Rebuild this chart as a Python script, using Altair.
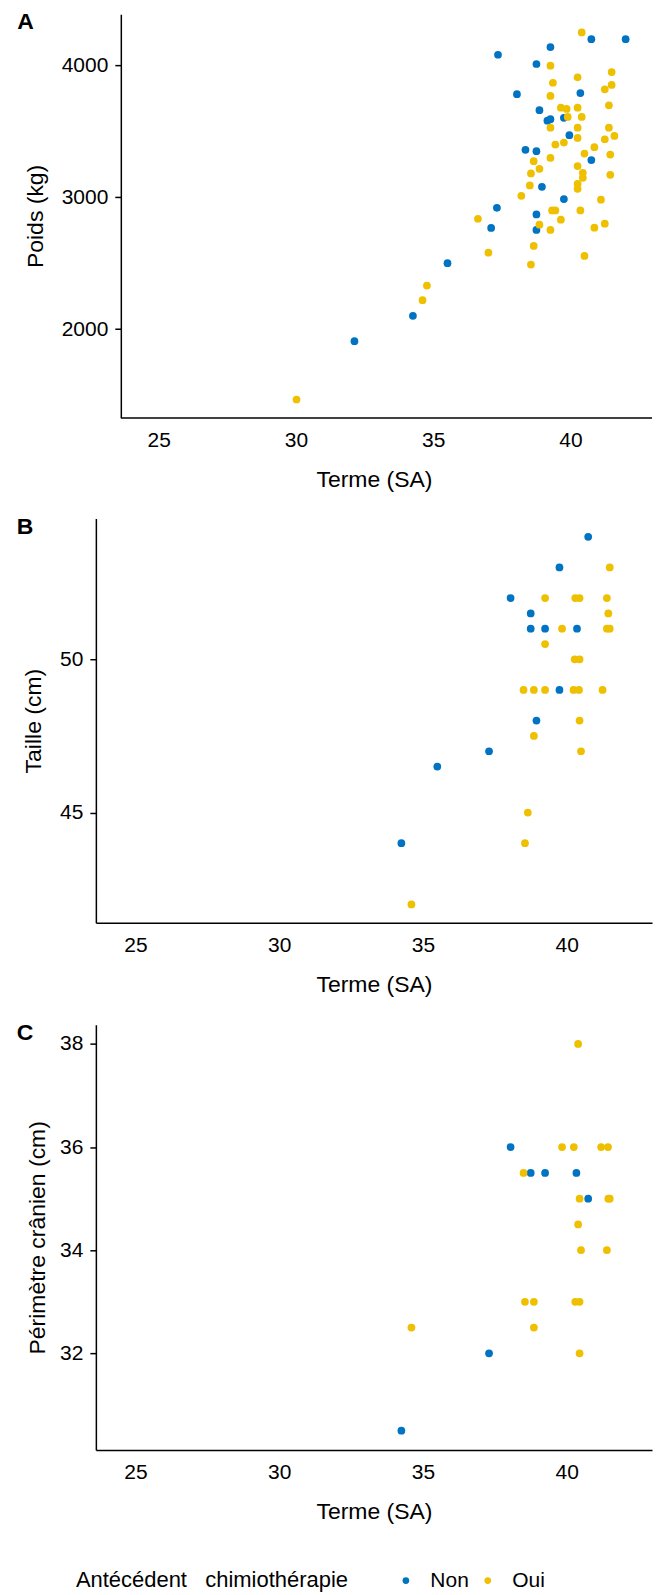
import altair as alt
import pandas as pd

FONT = "Liberation Sans"
BLUE, YELLOW = "#0073C2", "#EFC000"
X_TICKS = [25, 30, 35, 40]
X_MIN, X_MAX = 23.62, 42.97
X_MIN_A = 22.71  # panel A plot area starts further left; its axes start at X_MIN

# ---------------- Panel A : Poids (kg) ----------------
termeA_non = [40.76, 42.01, 39.27, 37.36, 38.76, 38.05, 40.36, 38.87, 39.16, 39.27, 39.76, 39.96,
              38.36, 38.76, 40.76, 38.96, 39.76, 37.32, 38.76, 37.11, 38.76, 35.52, 34.26, 32.13]
poidsA_non = [4196, 4196, 4136, 4078, 4008, 3779, 3788, 3658, 3579, 3590, 3600, 3469,
              3358, 3348, 3280, 3078, 2985, 2919, 2869, 2766, 2751, 2499, 2101, 1909]
termeA_oui = [40.41, 39.27, 41.50, 40.26, 39.36, 41.50, 41.25, 39.27, 41.40, 39.65, 39.86, 40.26,
              39.90, 40.41, 39.27, 40.26, 41.40, 40.26, 41.25, 41.60, 39.45, 39.76, 40.87, 40.51,
              41.45, 39.27, 38.66, 38.87, 38.56, 40.26, 40.45, 40.45, 41.45, 38.52, 40.26, 40.26,
              38.21, 41.11, 39.33, 39.45, 40.36, 36.63, 39.65, 38.87, 39.27, 40.87, 41.25, 37.01,
              38.66, 38.56, 40.51, 34.77, 34.61, 30.02]
poidsA_oui = [4247, 3995, 3947, 3907, 3866, 3849, 3816, 3766, 3695, 3677, 3668, 3677,
              3607, 3607, 3526, 3526, 3526, 3448, 3438, 3463, 3398, 3413, 3378, 3330,
              3322, 3297, 3272, 3214, 3179, 3235, 3184, 3146, 3169, 3088, 3101, 3063,
              3010, 2980, 2899, 2899, 2899, 2836, 2829, 2791, 2751, 2768, 2799, 2579,
              2630, 2489, 2554, 2330, 2219, 1467]

# ---------------- Panel B : Taille (cm) ----------------
termeB_non = [40.75, 39.75, 38.05, 38.75, 38.75, 39.25, 40.36, 39.75, 38.95, 37.30, 35.50, 34.25]
tailleB_non = [54, 53, 52, 51.5, 51, 51, 51, 49, 48, 47, 46.5, 44]
termeB_oui = [41.50, 39.25, 40.30, 40.45, 41.40, 41.45, 39.84, 41.40, 41.50, 39.25, 40.28, 40.45,
              38.50, 38.86, 39.25, 40.24, 40.43, 41.25, 40.45, 38.86, 40.50, 38.65, 38.55, 34.60]
tailleB_oui = [53, 52, 52, 52, 52, 51.5, 51, 51, 51, 50.5, 50, 50,
               49, 49, 49, 49, 49, 49, 48, 47.5, 47, 45, 44, 42]

# ---------------- Panel C : Périmètre crânien (cm) ----------------
termeC_non = [38.05, 38.75, 39.25, 40.34, 40.75, 37.30, 34.25]
pcC_non = [36, 35.5, 35.5, 35.5, 35, 32, 30.5]
termeC_oui = [40.40, 39.84, 40.25, 41.20, 41.44, 38.50, 40.45, 41.45, 41.50, 40.40, 40.50, 41.40,
              38.55, 38.86, 40.30, 40.45, 34.60, 38.86, 40.45]
pcC_oui = [38, 36, 36, 36, 36, 35.5, 35, 35, 35, 34.5, 34, 34,
           33, 33, 33, 33, 32.5, 32.5, 32]

GROUPS = ["Non", "Oui"]


def frame(terme_non, val_non, terme_oui, val_oui):
    return pd.DataFrame({
        "terme": terme_non + terme_oui,
        "val": val_non + val_oui,
        "chimio": [GROUPS[0]] * len(terme_non) + [GROUPS[1]] * len(terme_oui),
    })


dfA = frame(termeA_non, poidsA_non, termeA_oui, poidsA_oui)
dfB = frame(termeB_non, tailleB_non, termeB_oui, tailleB_oui)
dfC = frame(termeC_non, pcC_non, termeC_oui, pcC_oui)

color = alt.Color(
    "chimio:N",
    scale=alt.Scale(domain=GROUPS, range=[BLUE, YELLOW]),
    legend=alt.Legend(
        title="Antécédent\u00a0\u00a0 chimiothérapie",
        orient="none", legendX=-20, legendY=1558,
        direction="horizontal", titleOrient="left", titleLimit=600,
        titlePadding=47, labelOffset=14, columnPadding=8,
        symbolSize=45, symbolType="circle", symbolStrokeWidth=0,
        padding=0,
    ),
)


def panel(df, letter, ytitle, ydomain, yticks, height, ytp, letter_dx, letter_dy,
          xmin=X_MIN, yaxis_offset=0):
    shifted = xmin != X_MIN
    points = alt.Chart(df).mark_circle(size=60, opacity=1).encode(
        x=alt.X("terme:Q", title="Terme (SA)",
                scale=alt.Scale(domain=[xmin, X_MAX], nice=False, zero=False),
                axis=alt.Axis(values=X_TICKS, tickSize=0, labelPadding=12, titlePadding=18,
                              domain=not shifted)),
        y=alt.Y("val:Q", title=ytitle,
                scale=alt.Scale(domain=ydomain, nice=False, zero=False),
                axis=alt.Axis(values=yticks, format="d", tickSize=6, labelPadding=7,
                              titlePadding=ytp, offset=yaxis_offset)),
        color=color,
    )
    layers = [points]
    if shifted:
        axis_line = pd.DataFrame({"x0": [X_MIN], "x1": [X_MAX], "y0": [ydomain[0]]})
        layers.append(
            alt.Chart(axis_line).mark_rule(color="black", strokeWidth=1.5, yOffset=0.5).encode(
                x="x0:Q", x2="x1:Q", y="y0:Q"
            )
        )
    return alt.layer(
        *layers,
        title=alt.TitleParams(letter, anchor="start", frame="bounds", orient="top",
                              fontSize=23, fontWeight="bold", font=FONT, color="black",
                              offset=0, dx=letter_dx, dy=letter_dy),
    ).properties(width=557, height=height)


chartA = panel(dfA, "A", "Poids (kg)", [1330, 4385], [2000, 3000, 4000], 404, 14, -7, 20,
               xmin=X_MIN_A, yaxis_offset=-25)
chartB = panel(dfB, "B", "Taille (cm)", [41.4, 54.6], [45, 50], 405, 14, -6, 21)
chartC = panel(dfC, "C", "Périmètre crânien (cm)", [30.125, 38.375], [32, 34, 36, 38], 426, 10, -10, 20)

chart = alt.vconcat(chartA, chartB, chartC, spacing=25).resolve_scale(
    color="shared", x="independent", y="independent"
).properties(
    padding={"left": 8, "top": 2, "right": 0, "bottom": 0}
).configure(
    font=FONT, background="white"
).configure_view(
    stroke=None
).configure_axis(
    grid=False, domainColor="black", domainWidth=1.5, tickColor="black", tickWidth=1.5,
    labelColor="black", titleColor="black", labelFont=FONT, titleFont=FONT,
    labelFontSize=21, titleFontSize=23, titleFontWeight="normal",
).configure_legend(
    labelFont=FONT, titleFont=FONT, labelFontSize=21, titleFontSize=22,
    titleFontWeight="normal", labelColor="black", titleColor="black",
)

chart.save("out.html", embed_options={"renderer": "svg", "actions": False})
